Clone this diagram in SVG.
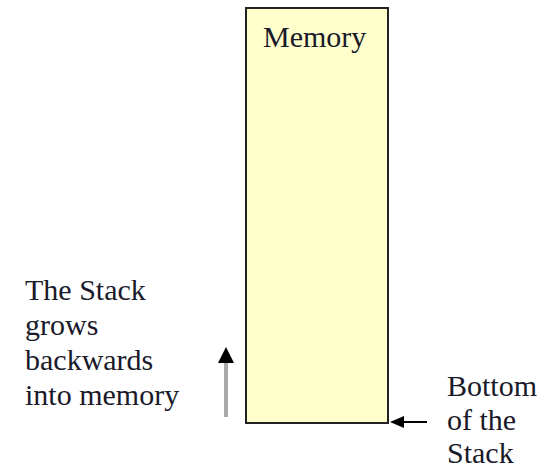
<svg xmlns="http://www.w3.org/2000/svg" width="558" height="469" viewBox="0 0 558 469">
<style>
.t{font-size:30px;fill:#1a1a2a}
</style>
<rect width="558" height="469" fill="#fff"/>
<text x="263" y="47" class="t" font-family="serif" id="memory-label-test" visibility="hidden">x</text>
<g id="memory">
<rect x="246" y="8" width="142" height="415" fill="#ffffcc" stroke="#222" stroke-width="2"/>
<text x="263" y="47" class="t" font-family="Tinos, Liberation Serif, serif">Memory</text>
</g>
<g id="stack-label">
<text x="25" y="300" class="t" font-family="Tinos, Liberation Serif, serif">The Stack</text>
<text x="25" y="335" class="t" font-family="Tinos, Liberation Serif, serif">grows</text>
<text x="25" y="370" class="t" font-family="Tinos, Liberation Serif, serif">backwards</text>
<text x="25" y="405" class="t" font-family="Tinos, Liberation Serif, serif">into memory</text>
</g>
<g id="bottom-label">
<text x="447" y="396" class="t" font-family="Tinos, Liberation Serif, serif">Bottom</text>
<text x="447" y="430" class="t" font-family="Tinos, Liberation Serif, serif">of the</text>
<text x="447" y="463" class="t" font-family="Tinos, Liberation Serif, serif">Stack</text>
</g>
<g id="connectors">
<line x1="226" y1="417" x2="226" y2="362" stroke="#aaa" stroke-width="4"/>
<path d="M218,363L226,347L234,363z" fill="#000"/>
<line x1="427" y1="422" x2="403" y2="422" stroke="#000" stroke-width="2"/>
<path d="M404,416L390,422L404,428z" fill="#000"/>
</g>
</svg>
